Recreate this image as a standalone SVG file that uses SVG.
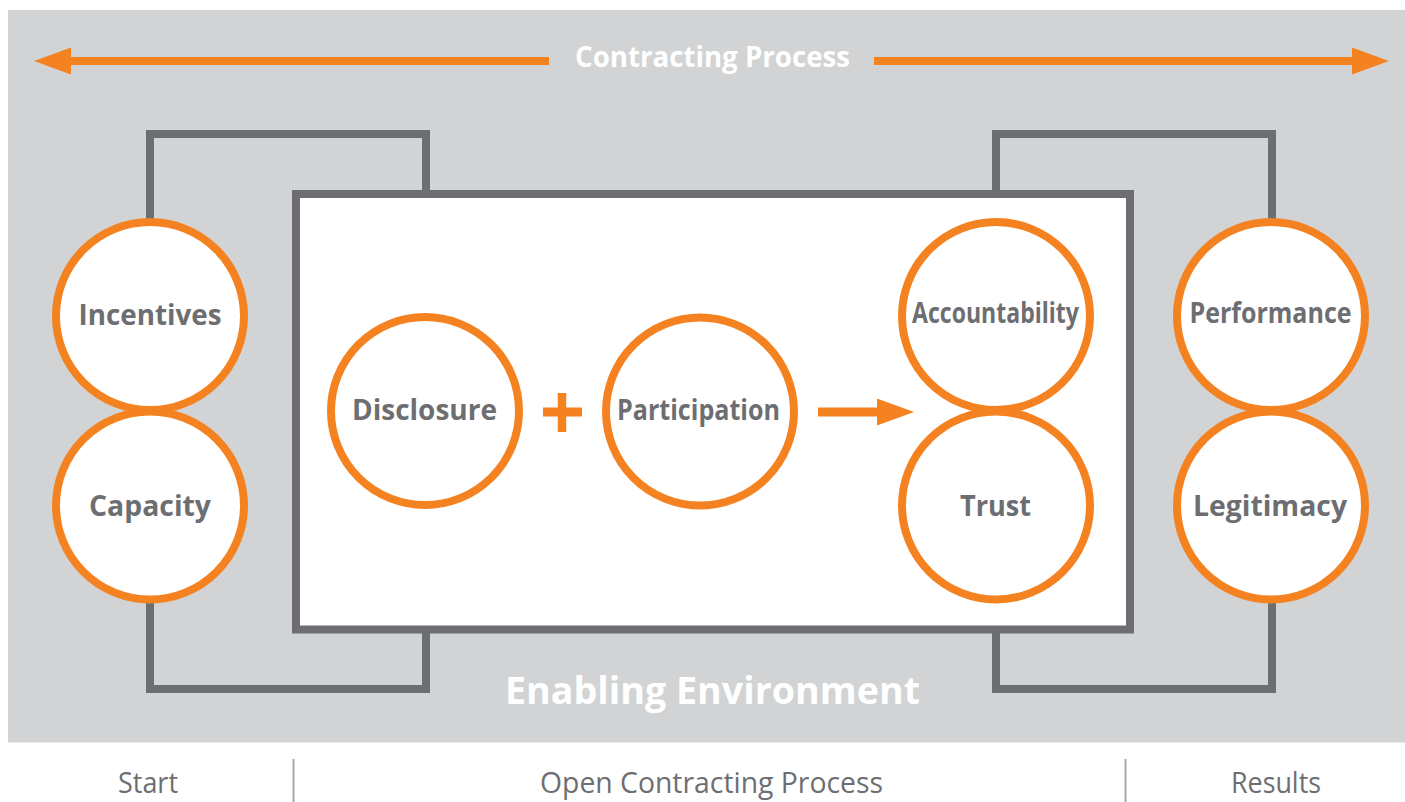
<svg xmlns="http://www.w3.org/2000/svg" width="1405" height="802" viewBox="0 0 1405 802">
  <defs>
    <style>
      .bg { fill: #d1d3d4; }
      .frame { fill: none; stroke: #6d6e71; stroke-width: 8; stroke-linejoin: miter; }
      .box { fill: #ffffff; stroke: #6d6e71; stroke-width: 8; }
      .node circle { fill: #ffffff; stroke: #f58220; stroke-width: 8; }
      .lbl { font-family: "Open Sans", "Noto Sans", "Liberation Sans", sans-serif; font-weight: 700; font-size: 28px; fill: #6d6e71; text-anchor: middle; }
      .title { font-family: "Open Sans", "Noto Sans", "Liberation Sans", sans-serif; font-weight: 700; fill: #ffffff; text-anchor: middle; }
      .foot { font-family: "Open Sans", "Noto Sans", "Liberation Sans", sans-serif; font-weight: 400; font-size: 30px; fill: #6d6e71; text-anchor: middle; }
      .sep { stroke: #a7a9ac; stroke-width: 2; }
      .orange { stroke: #f58220; fill: none; }
    </style>
    <marker id="ah" markerUnits="userSpaceOnUse" markerWidth="37" markerHeight="27" viewBox="0 0 37 27" refX="0" refY="13.5" orient="auto">
      <path d="M0,0 L37,13.5 L0,27 Z" fill="#f58220"/>
    </marker>
  </defs>

  <rect class="bg" x="8" y="10" width="1397" height="732.5"/>

  <g id="connectors">
    <path class="frame" d="M150,316 V134 H426 V194"/>
    <path class="frame" d="M150,505 V689 H426 V630"/>
    <path class="frame" d="M996,194 V134 H1272 V316"/>
    <path class="frame" d="M996,630 V689 H1272 V505"/>
    <line class="orange" x1="549" y1="61" x2="71" y2="61" stroke-width="8" marker-end="url(#ah)"/>
    <line class="orange" x1="874" y1="61" x2="1352" y2="61" stroke-width="8" marker-end="url(#ah)"/>
  </g>

  <g id="open-contracting-box">
    <rect class="box" x="296" y="194" width="834" height="435.5"/>
  </g>

  <g id="operators">
    <line class="orange" x1="543" y1="412" x2="582" y2="412" stroke-width="9"/>
    <line class="orange" x1="562" y1="393" x2="562" y2="432" stroke-width="8.5"/>
    <line class="orange" x1="818" y1="412" x2="877" y2="412" stroke-width="9" marker-end="url(#ah)"/>
  </g>

  <g id="title-contracting-process">
    <text class="title" x="712.5" y="67" font-size="28" textLength="275" lengthAdjust="spacingAndGlyphs">Contracting Process</text>
  </g>

  <g id="node-incentives" class="node">
    <circle cx="150" cy="316" r="94"/>
    <text class="lbl" x="150" y="325" textLength="143" lengthAdjust="spacingAndGlyphs">Incentives</text>
  </g>
  <g id="node-capacity" class="node">
    <circle cx="150" cy="505.5" r="94"/>
    <text class="lbl" x="150" y="516" textLength="122" lengthAdjust="spacingAndGlyphs">Capacity</text>
  </g>
  <g id="node-disclosure" class="node">
    <circle cx="425" cy="411" r="94"/>
    <text class="lbl" x="424.5" y="420" textLength="145" lengthAdjust="spacingAndGlyphs">Disclosure</text>
  </g>
  <g id="node-participation" class="node">
    <circle cx="700" cy="411.5" r="94"/>
    <text class="lbl" x="698.5" y="419.5" textLength="163" lengthAdjust="spacingAndGlyphs">Participation</text>
  </g>
  <g id="node-accountability" class="node">
    <circle cx="996" cy="316" r="94"/>
    <text class="lbl" x="995.5" y="323" textLength="167" lengthAdjust="spacingAndGlyphs">Accountability</text>
  </g>
  <g id="node-trust" class="node">
    <circle cx="996" cy="505.5" r="94"/>
    <text class="lbl" x="995.5" y="516" textLength="71" lengthAdjust="spacingAndGlyphs">Trust</text>
  </g>
  <g id="node-performance" class="node">
    <circle cx="1271" cy="316" r="94"/>
    <text class="lbl" x="1270.5" y="323" textLength="162" lengthAdjust="spacingAndGlyphs">Performance</text>
  </g>
  <g id="node-legitimacy" class="node">
    <circle cx="1271" cy="505.5" r="94"/>
    <text class="lbl" x="1270" y="516" textLength="154" lengthAdjust="spacingAndGlyphs">Legitimacy</text>
  </g>

  <g id="title-enabling-environment">
    <text class="title" x="712.5" y="704" font-size="37" textLength="415" lengthAdjust="spacingAndGlyphs">Enabling Environment</text>
  </g>

  <g id="footer">
    <line class="sep" x1="293.5" y1="759" x2="293.5" y2="802"/>
    <line class="sep" x1="1125.5" y1="759" x2="1125.5" y2="802"/>
    <text class="foot" x="148" y="793" textLength="60" lengthAdjust="spacingAndGlyphs">Start</text>
    <text class="foot" x="711.5" y="793" textLength="343" lengthAdjust="spacingAndGlyphs">Open Contracting Process</text>
    <text class="foot" x="1276" y="793" textLength="90" lengthAdjust="spacingAndGlyphs">Results</text>
  </g>
</svg>
